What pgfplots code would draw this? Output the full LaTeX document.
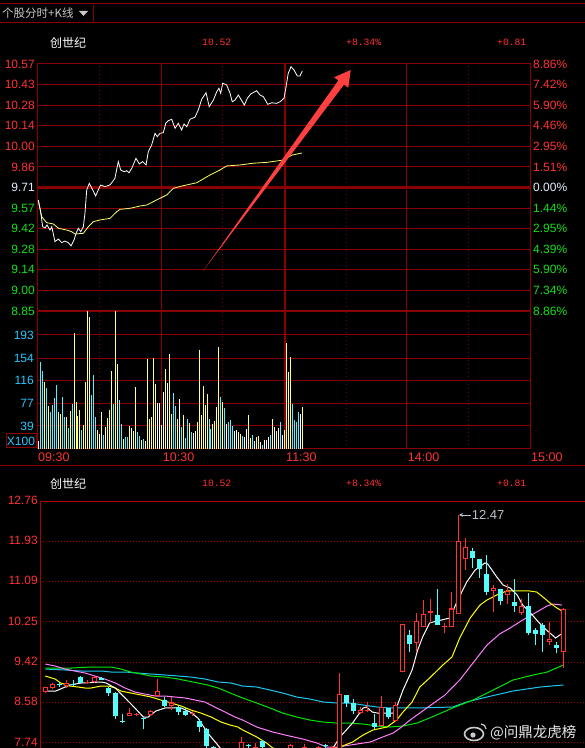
\documentclass[border=0pt]{standalone}
\usepackage{pgfplots}
\pgfplotsset{compat=1.18}
\usepackage{pgfplotstable}
\usetikzlibrary{arrows.meta}
\usepackage{fontspec}
\setmainfont{Liberation Sans}
\newfontfamily\cjk{Noto Sans CJK SC}
\newfontfamily\monof{Liberation Mono}
\newcommand{\lblfont}{\fontsize{12}{12}\selectfont}
\definecolor{gridred}{RGB}{136,0,0}
\definecolor{dotred}{RGB}{175,0,0}
\definecolor{lblred}{RGB}{255,50,50}
\definecolor{lblgreen}{RGB}{20,225,20}
\definecolor{lblcyan}{RGB}{40,200,255}
\definecolor{lblwhite}{RGB}{225,240,255}
\definecolor{kred}{RGB}{255,50,50}
\definecolor{kcyan}{RGB}{84,252,252}
\definecolor{avgyel}{RGB}{255,255,110}
\definecolor{volyel}{RGB}{255,255,140}
\definecolor{volcyan}{RGB}{84,240,255}
\definecolor{ma10c}{RGB}{255,255,0}
\definecolor{ma20c}{RGB}{255,128,255}
\definecolor{ma30c}{RGB}{0,230,0}
\definecolor{ma60c}{RGB}{30,200,240}
\definecolor{topgray}{RGB}{200,200,200}
\definecolor{arrowred}{RGB}{255,64,64}
\definecolor{annogray}{RGB}{185,195,205}

% daily candles: red (up) and cyan (down)
\pgfplotstableread{
i o h l c
0 8.80 8.91 8.77 8.91
1 8.89 8.99 8.85 8.96
3 8.93 9.05 8.89 8.98
6 8.98 9.05 8.96 9.00
7 9.00 9.13 8.98 9.11
12 8.30 8.46 8.29 8.37
13 8.33 8.37 8.29 8.35
15 8.33 8.43 8.31 8.40
16 8.71 9.06 8.69 8.82
18 8.51 8.70 8.43 8.58
21 8.35 8.41 8.30 8.37
28 7.55 7.86 7.50 7.77
30 7.60 7.75 7.55 7.66
35 7.55 7.71 7.50 7.70
37 7.50 7.72 7.45 7.66
39 7.50 7.68 7.45 7.66
41 7.60 7.68 7.55 7.66
42 7.62 9.19 7.60 8.75
45 8.37 8.48 8.35 8.43
46 8.41 8.60 8.39 8.43
48 8.10 8.71 8.10 8.49
50 8.20 8.60 8.18 8.52
51 9.21 10.20 9.21 10.20
53 9.81 10.44 9.63 10.28
54 10.14 10.71 10.14 10.42
55 10.43 10.73 10.22 10.47
57 10.14 10.22 10.03 10.16
58 10.14 10.87 10.14 10.53
59 10.41 12.47 10.41 11.93
60 11.56 12.00 11.33 11.81
64 10.89 11.02 10.46 10.95
66 10.81 11.03 10.62 10.89
68 10.43 10.73 10.39 10.58
72 9.83 10.26 9.77 9.89
74 9.62 10.55 9.30 10.52
}\redk
\pgfplotstableread{
i o h l c
2 8.96 9.01 8.91 8.94
4 8.97 9.05 8.92 8.95
5 9.11 9.13 8.98 8.99
8 9.09 9.11 9.04 9.05
9 8.89 8.91 8.72 8.78
10 8.78 8.80 8.24 8.29
11 8.19 8.35 8.15 8.17
14 8.26 8.26 8.02 8.23
17 8.63 8.69 8.49 8.51
19 8.49 8.53 8.32 8.39
20 8.41 8.46 8.30 8.32
22 8.20 8.23 7.97 8.08
23 8.03 8.05 7.60 7.68
24 7.66 7.67 7.50 7.55
29 7.69 7.72 7.60 7.67
31 7.79 7.80 7.62 7.66
40 7.70 7.71 7.60 7.68
43 8.74 8.74 8.49 8.56
44 8.56 8.65 8.35 8.41
47 8.15 8.34 8.04 8.08
49 8.46 8.46 8.23 8.28
52 9.99 10.08 9.63 9.79
56 10.39 10.93 10.19 10.19
61 11.72 11.78 11.36 11.57
62 11.56 11.56 11.16 11.35
63 11.25 11.65 10.82 10.88
65 10.93 10.93 10.60 10.69
67 10.67 11.14 10.46 10.59
69 10.58 10.85 9.97 10.03
70 10.08 10.13 9.77 10.00
71 10.19 10.22 9.63 9.97
73 9.78 9.84 9.60 9.71
}\cyank

\begin{document}
\begin{tikzpicture}
\fill[black] (0pt,0pt) rectangle (585pt,748pt);
\useasboundingbox (0pt,0pt) rectangle (585pt,748pt);

% frame lines
\draw[gridred, line width=1pt] (0pt,744pt) -- (585pt,744pt);
\draw[gridred, line width=1pt] (0pt,725pt) -- (585pt,725pt);
\draw[gridred, line width=1pt] (93pt,726pt) -- (93pt,743pt);
\draw[gridred, line width=1pt] (0pt,282pt) -- (585pt,282pt);

% top bar
\node[anchor=west, inner sep=0pt, text=topgray, font=\cjk\fontsize{11.5}{11.5}\selectfont] at (2pt,734.5pt) {个股分时+K线};
\fill[topgray] (79pt,737pt) -- (88pt,737pt) -- (83.5pt,732pt) -- cycle;

% headers
\foreach \yy in {705.5,264.5}{
  \node[anchor=west, inner sep=0pt, text=white, font=\cjk\fontsize{12}{12}\selectfont] at (50pt,\yy pt) {创世纪};
  \node[anchor=west, inner sep=0pt, text=lblred, font=\monof\fontsize{9.7}{9.7}\selectfont] at (202pt,\yy pt) {10.52};
  \node[anchor=west, inner sep=0pt, text=lblred, font=\monof\fontsize{9.7}{9.7}\selectfont] at (346pt,\yy pt) {+8.34\%};
  \node[anchor=west, inner sep=0pt, text=lblred, font=\monof\fontsize{9.7}{9.7}\selectfont] at (497pt,\yy pt) {+0.81};
}

% ================= intraday price =================
\begin{axis}[at={(37pt,437pt)}, anchor=south west, scale only axis,
  width=493pt, height=247pt,
  xmin=-0.65, xmax=247.7, ymin=8.85, ymax=10.57,
  axis line style={draw=gridred, line width=1pt},
  xtick={62.2,185.6}, xticklabels={}, xmajorgrids,
  ytick={8.85,8.9933,9.1367,9.28,9.4233,9.5667,9.71,9.8533,9.9967,10.14,10.2833,10.4267,10.57},
  yticklabels={\textcolor{lblgreen}{8.85},\textcolor{lblgreen}{9.00},\textcolor{lblgreen}{9.14},\textcolor{lblgreen}{9.28},\textcolor{lblgreen}{9.42},\textcolor{lblgreen}{9.57},\textcolor{lblwhite}{9.71},\textcolor{lblred}{9.86},\textcolor{lblred}{10.00},\textcolor{lblred}{10.14},\textcolor{lblred}{10.28},\textcolor{lblred}{10.43},\textcolor{lblred}{10.57}},
  ymajorgrids,
  major grid style={gridred, line width=1pt},
  major tick length=0pt,
  yticklabel style={anchor=east, inner sep=0pt, xshift=-2pt, font=\lblfont},
  clip mode=individual]
  \draw[gridred, dash pattern=on 1pt off 3pt] (axis cs:30.7,8.85) -- (axis cs:30.7,10.57);
  \draw[gridred, dash pattern=on 1pt off 3pt] (axis cs:92.7,8.85) -- (axis cs:92.7,10.57);
  \draw[gridred, dash pattern=on 1pt off 3pt] (axis cs:154.9,8.85) -- (axis cs:154.9,10.57);
  \draw[gridred, dash pattern=on 1pt off 3pt] (axis cs:216.8,8.85) -- (axis cs:216.8,10.57);
  \draw[gridred, line width=2pt] (axis cs:124.3,8.85) -- (axis cs:124.3,10.57);
  \draw[gridred, line width=3.5pt] (axis cs:-0.65,9.71) -- (axis cs:247.7,9.71);
  \draw[gridred, line width=2pt] (axis cs:-0.65,8.85) -- (axis cs:247.7,8.85);
  % average price
  \addplot[avgyel, line width=0.8pt] coordinates {
    (0,9.618)(1.7,9.507)(4.2,9.465)(7.6,9.456)(10.1,9.426)(14.3,9.414)(16.8,9.402)(18.5,9.386)
    (22.7,9.391)(25.2,9.437)(27.7,9.472)(31.1,9.484)(36.1,9.495)(39.5,9.541)(41.2,9.558)(46.2,9.565)
    (51.2,9.581)(54.6,9.588)(59.6,9.623)(64.7,9.658)(68.0,9.704)(72.2,9.720)(79.8,9.743)(86.5,9.797)
    (91.5,9.832)(94.9,9.860)(101.6,9.867)(108.3,9.879)(115.1,9.885)(123.4,9.901)(127.8,9.936)(132.8,9.950)};
  % price
  \addplot[white, line width=0.8pt] coordinates {
    (0,9.623)(1.2,9.541)(2.2,9.437)(3.4,9.428)(4.4,9.449)(5.9,9.414)(6.8,9.437)(8.4,9.333)(10.1,9.351)
    (11.8,9.326)(13.4,9.337)(15.1,9.326)(16.5,9.303)(18.0,9.344)(19.0,9.391)(20.2,9.426)(21.4,9.402)
    (22.7,9.437)(23.5,9.530)(24.4,9.693)(25.7,9.739)(27.4,9.693)(28.9,9.651)(30.2,9.693)(31.4,9.727)
    (33.6,9.716)(36.0,9.727)(37.0,9.743)(38.6,9.774)(40.3,9.890)(41.5,9.832)(43.2,9.820)(44.5,9.827)
    (45.7,9.813)(47.1,9.844)(49.2,9.913)(50.9,9.874)(52.6,9.890)(54.3,9.867)(55.4,9.959)(57.1,10.006)
    (58.8,10.087)(59.9,10.064)(61.3,10.087)(63.0,10.092)(64.2,10.157)(65.5,10.175)(67.2,10.185)
    (68.9,10.122)(70.5,10.157)(72.2,10.110)(73.4,10.152)(74.8,10.133)(76.4,10.185)(78.9,10.199)
    (80.6,10.250)(82.3,10.324)(84.5,10.370)(86.1,10.273)(88.2,10.319)(89.9,10.377)(91.0,10.401)
    (91.9,10.366)(92.9,10.436)(94.9,10.424)(96.6,10.366)(97.7,10.307)(99.1,10.319)(100.8,10.354)
    (102.0,10.326)(103.8,10.284)(105.3,10.331)(107.0,10.361)(110.0,10.384)(111.7,10.354)(113.4,10.342)
    (115.6,10.289)(117.6,10.300)(120.1,10.296)(121.8,10.307)(123.8,10.331)(124.8,10.410)(125.9,10.505)
    (127.3,10.551)(128.8,10.528)(130.5,10.486)(131.8,10.486)(133.0,10.521)};
\end{axis}

% percentage scale on the right
\begin{axis}[at={(37pt,437pt)}, anchor=south west, scale only axis,
  width=493pt, height=247pt,
  xmin=-0.65, xmax=247.7, ymin=8.85, ymax=10.57,
  axis x line=none, axis y line*=right, axis line style={draw=none},
  major tick length=0pt,
  ytick={8.85,8.9933,9.1367,9.28,9.4233,9.5667,9.71,9.8533,9.9967,10.14,10.2833,10.4267,10.57},
  yticklabels={\textcolor{lblgreen}{8.86\%},\textcolor{lblgreen}{7.34\%},\textcolor{lblgreen}{5.90\%},\textcolor{lblgreen}{4.39\%},\textcolor{lblgreen}{2.95\%},\textcolor{lblgreen}{1.44\%},\textcolor{lblwhite}{0.00\%},\textcolor{lblred}{1.51\%},\textcolor{lblred}{2.95\%},\textcolor{lblred}{4.46\%},\textcolor{lblred}{5.90\%},\textcolor{lblred}{7.42\%},\textcolor{lblred}{8.86\%}},
  yticklabel style={anchor=west, inner sep=0pt, xshift=3pt, font=\lblfont}]
  \addplot[draw=none] coordinates {(0,9.71)};
\end{axis}

% ================= intraday volume =================
\begin{axis}[at={(37pt,299pt)}, anchor=south west, scale only axis,
  width=493pt, height=138pt,
  xmin=-0.65, xmax=247.7, ymin=0, ymax=233.6,
  axis line style={draw=gridred, line width=1pt},
  xtick={-0.65,62.2,124.3,185.6,247.7},
  xticklabels={09:30,10:30,11:30,14:00,15:00},
  xticklabel style={anchor=north west, inner sep=0pt, xshift=1pt, yshift=-3.5pt, text=lblred, font=\fontsize{12.5}{12.5}\selectfont},
  xmajorgrids,
  ytick={39,77,116,154,193}, yticklabels={39,77,116,154,193},
  yticklabel style={anchor=east, inner sep=0pt, xshift=-3pt, text=lblcyan, font=\lblfont},
  ymajorgrids,
  major grid style={gridred, line width=1pt},
  major tick length=0pt,
  clip mode=individual]
  \draw[gridred, dash pattern=on 1pt off 3pt] (axis cs:30.7,0) -- (axis cs:30.7,233.6);
  \draw[gridred, dash pattern=on 1pt off 3pt] (axis cs:92.7,0) -- (axis cs:92.7,233.6);
  \draw[gridred, dash pattern=on 1pt off 3pt] (axis cs:154.9,0) -- (axis cs:154.9,233.6);
  \draw[gridred, dash pattern=on 1pt off 3pt] (axis cs:216.8,0) -- (axis cs:216.8,233.6);
  \draw[gridred, line width=2pt] (axis cs:124.3,0) -- (axis cs:124.3,233.6);
  \addplot[ycomb, volyel, line width=1pt, mark=none] coordinates {
    (3,113)(5,73)(10,63)(11,60)(14,54)(16,64)(18,196)(19,80)(20,56)(21,66)(23,41)(24,113)(25,233)
    (26,224)(30,32)(32,63)(35,52)(36,66)(37,132)(39,233)(40,144)(43,17)(46,39)(48,30)(49,105)(52,15)
    (55,152)(56,50)(57,54)(58,154)(59,110)(62,41)(64,135)(66,161)(67,59)(70,51)(73,58)(76,44)(80,46)
    (81,168)(82,58)(83,107)(84,74)(85,93)(88,42)(89,47)(90,71)(91,173)(93,80)(101,29)(102,25)(106,58)
    (107,19)(110,20)(111,22)(118,51)(120,30)(124,32)(125,179)(126,130)(127,156)(133,71)};
  \addplot[ycomb, volcyan, line width=1pt, mark=none] coordinates {
    (1,147)(2,132)(4,104)(6,63)(7,74)(8,86)(9,108)(12,88)(13,54)(15,36)(17,76)(22,32)(27,91)(28,125)
    (29,54)(33,24)(38,76)(41,83)(42,42)(44,20)(45,20)(50,29)(51,22)(53,17)(68,95)(69,73)(72,37)(74,19)
    (75,51)(77,29)(86,51)(87,34)(92,88)(94,69)(96,46)(97,49)(98,39)(103,22)(108,24)(113,7)(117,24)
    (122,46)(128,76)(129,49)(130,46)(131,63)};
  \addplot[ycomb, white, line width=1pt, mark=none] coordinates {
    (0,13)(31,25)(34,37)(47,36)(54,14)(60,78)(61,78)(63,97)(65,112)(71,85)(78,27)(79,30)(95,42)(99,30)
    (100,32)(104,20)(105,34)(109,14)(112,12)(114,15)(115,15)(116,20)(119,37)(121,36)(123,24)(132,59)};
\end{axis}
\node[draw=gridred, line width=1pt, text=lblcyan, font=\lblfont, inner sep=0pt, minimum width=30pt, minimum height=14pt] at (21pt,307pt) {X100};

% red arrow annotation
\fill[arrowred] (203pt,477pt) -- (338.4pt,667.6pt) -- (334pt,670.7pt) -- (350.7pt,678pt) -- (348.3pt,660.3pt) -- (344pt,663.4pt) -- cycle;

% ================= daily K line =================
\begin{axis}[at={(40pt,0pt)}, anchor=south west, scale only axis,
  width=545pt, height=247pt,
  xmin=-0.757, xmax=77.1, ymin=7.636, ymax=12.76,
  axis line style={draw=none},
  xtick=\empty,
  ytick={7.74,8.5767,9.4133,10.25,11.0867,11.9233,12.76},
  yticklabels={7.74,8.58,9.42,10.25,11.09,11.93,12.76},
  yticklabel style={anchor=east, inner sep=0pt, xshift=-2pt, yshift=0.8pt, text=lblred, font=\lblfont},
  ymajorgrids,
  major grid style={dotred, dash pattern=on 1pt off 2pt, line width=1pt},
  major tick length=0pt,
  clip mode=individual]
  \draw[dotred, line width=1pt] (axis cs:-0.757,7.636) -- (axis cs:-0.757,12.76) -- (axis cs:77.1,12.76);
  % moving averages
  \addplot[ma60c, line width=1pt] coordinates {
    (0,9.274)(2.8,9.254)(5.1,9.233)(8.0,9.233)(9.4,9.212)(11.4,9.212)(13.2,9.191)(15.1,9.171)(17.1,9.150)
    (19.0,9.129)(20.8,9.108)(22.8,9.067)(24.7,9.005)(26.5,8.984)(28.2,8.922)(30.2,8.901)(32.1,8.839)
    (33.9,8.777)(35.9,8.694)(37.8,8.652)(39.7,8.590)(41.7,8.569)(43.5,8.569)(45.4,8.528)(47.4,8.486)
    (49.2,8.466)(53.1,8.466)(58.2,8.486)(60.2,8.590)(63.1,8.694)(66.8,8.818)(70.7,8.901)(74.0,8.943)};
  \addplot[ma30c, line width=1pt] coordinates {
    (0,9.295)(3.7,9.295)(6.5,9.316)(9.4,9.316)(10.8,9.274)(12.2,9.212)(13.7,9.171)(15.1,9.129)(17.1,9.108)
    (19.0,9.067)(20.4,9.025)(21.8,8.984)(23.2,8.942)(24.7,8.880)(26.4,8.777)(28.2,8.673)(30.2,8.569)
    (32.1,8.466)(33.9,8.362)(35.9,8.279)(37.8,8.216)(39.7,8.175)(41.6,8.154)(43.5,8.154)(45.4,8.133)
    (47.4,8.092)(49.2,8.071)(51.1,8.092)(53.1,8.154)(54.9,8.258)(58.2,8.466)(61.1,8.631)(64.0,8.839)
    (66.8,9.046)(69.7,9.150)(71.7,9.212)(74.0,9.357)};
  \addplot[ma20c, line width=1pt] coordinates {
    (0,9.378)(1.4,9.337)(2.8,9.274)(4.2,9.233)(5.7,9.191)(7.1,9.129)(8.5,9.067)(10.0,8.984)(11.4,8.880)
    (12.8,8.797)(14.2,8.756)(15.7,8.714)(17.1,8.714)(18.5,8.694)(20.0,8.673)(21.4,8.631)(22.8,8.590)
    (24.2,8.486)(25.7,8.382)(27.1,8.279)(28.2,8.216)(30.2,8.071)(32.5,7.967)(34.9,7.884)(36.8,7.822)
    (38.8,7.740)(40.2,7.656)(41.7,7.656)(44.5,7.718)(46.4,7.760)(48.2,7.864)(49.7,7.947)(50.7,8.050)
    (52.1,8.216)(53.5,8.362)(54.9,8.507)(57.1,8.735)(59.2,9.046)(61.1,9.399)(63.1,9.772)(64.9,10.001)
    (66.4,10.125)(68.2,10.291)(70.2,10.457)(71.7,10.582)(72.5,10.623)(73.8,10.602)};
  \addplot[ma10c, line width=1pt] coordinates {
    (0,9.129)(1.4,9.067)(2.2,8.984)(3.5,8.922)(4.7,8.901)(5.7,8.880)(6.5,8.880)(8.0,8.922)(9.0,8.922)
    (10.0,8.880)(10.8,8.818)(12.2,8.777)(13.7,8.735)(15.1,8.694)(16.5,8.631)(18.0,8.569)(19.4,8.507)
    (20.8,8.424)(22.2,8.362)(23.7,8.279)(25.1,8.175)(26.4,8.113)(27.5,8.071)(28.2,8.009)(30.2,7.864)
    (31.6,7.740)(32.5,7.636)(37.0,7.450)(42.1,7.657)(43.9,7.760)(45.4,7.905)(46.8,8.009)(48.8,8.071)
    (50.2,8.216)(51.1,8.382)(52.4,8.590)(53.5,8.901)(54.9,9.088)(56.8,9.358)(58.1,9.524)(59.2,9.918)
    (60.7,10.333)(62.1,10.602)(63.1,10.706)(64.5,10.810)(65.9,10.893)(67.4,10.893)(69.2,10.893)
    (70.2,10.872)(71.1,10.768)(72.1,10.644)(73.1,10.540)(73.8,10.478)};
  \addplot[white, line width=1pt] coordinates {
    (0,8.818)(1.5,8.818)(3.5,8.943)(5.1,8.984)(8.0,9.005)(8.7,8.984)(10.0,8.880)(11.4,8.673)(12.8,8.466)
    (14.0,8.279)(14.7,8.279)(15.8,8.403)(17.1,8.466)(18.0,8.466)(19.4,8.466)(20.7,8.383)(21.8,8.258)
    (23.2,7.947)(24.4,7.740)(25.2,7.595)(33.0,7.300)(41.1,7.636)(42.1,7.864)(43.9,8.154)(45.4,8.466)
    (45.9,8.486)(46.7,8.383)(47.4,8.362)(48.8,8.362)(49.7,8.362)(50.2,8.486)(51.1,8.839)(52.4,9.254)
    (53.2,9.669)(53.9,9.938)(54.9,10.229)(55.4,10.250)(57.8,10.333)(58.8,10.665)(60.2,11.079)
    (61.4,11.328)(62.8,11.474)(63.2,11.453)(64.5,11.183)(65.4,11.017)(66.4,10.955)(67.4,10.810)
    (68.2,10.602)(69.2,10.457)(70.2,10.291)(71.1,10.146)(72.1,10.021)(72.9,9.918)(73.5,9.980)(74.0,10.021)};
  % wicks
  \addplot[draw=none, mark=none, forget plot,
    error bars/.cd, y dir=plus, y explicit, error mark=none,
    error bar style={draw=kred, solid, line width=1pt}]
    table[x=i, y=l, y error plus expr=\thisrow{h}-\thisrow{l}] {\redk};
  \addplot[draw=none, mark=none, forget plot,
    error bars/.cd, y dir=plus, y explicit, error mark=none,
    error bar style={draw=kcyan, solid, line width=1pt}]
    table[x=i, y=l, y error plus expr=\thisrow{h}-\thisrow{l}] {\cyank};
  % bodies
  \addplot[draw=none, mark=none, forget plot,
    error bars/.cd, y dir=plus, y explicit, error mark=none,
    error bar style={draw=kred, solid, line width=5pt}]
    table[x=i, y=o, y error plus expr=\thisrow{c}-\thisrow{o}] {\redk};
  \addplot[draw=none, mark=none, forget plot,
    error bars/.cd, y dir=plus, y explicit, error mark=none,
    error bar style={draw=black, solid, line width=3pt}]
    table[x=i, y expr=\thisrow{o}+0.021, y error plus expr={max(\thisrow{c}-\thisrow{o}-0.042,0)}] {\redk};
  \addplot[draw=none, mark=none, forget plot,
    error bars/.cd, y dir=plus, y explicit, error mark=none,
    error bar style={draw=kcyan, solid, line width=5pt}]
    table[x=i, y=c, y error plus expr=\thisrow{o}-\thisrow{c}] {\cyank};
  % high annotation
  \draw[annogray, line width=0.8pt, -{Stealth[length=4pt,width=4pt]}] (axis cs:60.8,12.47) -- (axis cs:59.1,12.47);
  \node[anchor=west, inner sep=0pt, text=annogray, font=\fontsize{13}{13}\selectfont] at (axis cs:60.9,12.47) {12.47};
\end{axis}

% watermark
\draw[white!80!black, line width=1.6pt] (474pt,14pt) ellipse (9.5pt and 6.5pt);
\fill[white!80!black] (473pt,13pt) circle (2.6pt);
\draw[white!80!black, line width=1.2pt] (481pt,24pt) arc (90:0:5pt);
\node[anchor=west, inner sep=0pt, text=black, font=\cjk\fontsize{14.5}{14.5}\selectfont] at (490.8pt,14.8pt) {@问鼎龙虎榜};
\node[anchor=west, inner sep=0pt, text=white!92!black, font=\cjk\fontsize{14.5}{14.5}\selectfont] at (490pt,15.5pt) {@问鼎龙虎榜};
\end{tikzpicture}
\end{document}
